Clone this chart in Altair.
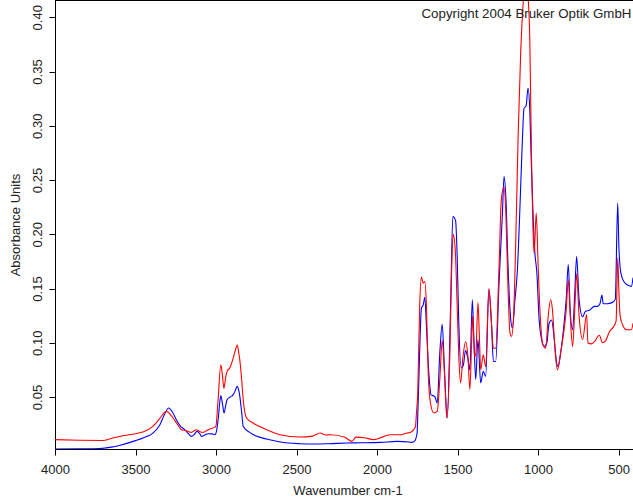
import altair as alt
import pandas as pd

# Two FT-IR absorbance spectra: wavenumber (cm-1) and absorbance pairs
blue_wn = [4000, 3850, 3724, 3650, 3600, 3500, 3450, 3392, 3350, 3320, 3294, 3270, 3246, 3220,
           3194, 3170, 3153, 3135, 3118, 3100, 3090, 3070, 3049, 3025, 3007, 2995, 2987, 2975,
           2970, 2960, 2950, 2940, 2931, 2912, 2894, 2880, 2869, 2860, 2852, 2840, 2831, 2800,
           2750, 2685, 2600, 2478, 2395, 2300, 2187, 2100, 1979, 1875, 1800, 1782, 1765, 1761,
           1751, 1747, 1736, 1724, 1713, 1703, 1693, 1678, 1664, 1650, 1640, 1626, 1610, 1595,
           1581, 1564, 1543, 1529, 1512, 1502, 1492, 1477, 1464, 1450, 1435, 1423, 1408, 1398,
           1387, 1373, 1356, 1340, 1325, 1305, 1290, 1277, 1263, 1242, 1221, 1211, 1199, 1186,
           1169, 1159, 1143, 1128, 1112, 1097, 1087, 1074, 1062, 1051, 1041, 1028, 1020, 1007,
           993, 978, 962, 945, 931, 916, 900, 885, 875, 860, 840, 825, 812, 800, 785, 772, 760,
           745, 723, 705, 680, 650, 630, 615, 603, 595, 570, 540, 520, 505, 498, 485, 465, 440,
           420, 410]
blue_abs = [0.0020, 0.0022, 0.0025, 0.0038, 0.0054, 0.0098, 0.0125, 0.0168, 0.0240, 0.0340,
            0.0399, 0.0360, 0.0291, 0.0230, 0.0199, 0.0160, 0.0137, 0.0155, 0.0183, 0.0160,
            0.0137, 0.0150, 0.0162, 0.0160, 0.0153, 0.0200, 0.0290, 0.0470, 0.0512, 0.0440,
            0.0353, 0.0420, 0.0475, 0.0500, 0.0520, 0.0560, 0.0598, 0.0570, 0.0506, 0.0350,
            0.0230, 0.0183, 0.0140, 0.0113, 0.0085, 0.0070, 0.0067, 0.0070, 0.0076, 0.0078,
            0.0082, 0.0091, 0.0085, 0.0082, 0.0095, 0.0107, 0.0168, 0.0320, 0.0870, 0.1320,
            0.1350, 0.1420, 0.1150, 0.0720, 0.0520, 0.0512, 0.0500, 0.0445, 0.0905, 0.1170,
            0.0750, 0.0307, 0.1335, 0.2164, 0.2127, 0.1795, 0.1180, 0.0767, 0.0790, 0.0930,
            0.0850, 0.0750, 0.1396, 0.1030, 0.0660, 0.1030, 0.0630, 0.0736, 0.0690, 0.1490,
            0.1210, 0.0828, 0.0828, 0.1550, 0.2195, 0.2532, 0.2317, 0.1703, 0.1210, 0.1136,
            0.1396, 0.1670, 0.2255, 0.2870, 0.3160, 0.3183, 0.3346, 0.3146, 0.2624, 0.2070,
            0.1840, 0.1640, 0.1210, 0.1030, 0.0966, 0.1000, 0.1180, 0.1210, 0.1050, 0.0820,
            0.0780, 0.0900, 0.1150, 0.1400, 0.1720, 0.1300, 0.1120, 0.1450, 0.1795, 0.1400,
            0.1240, 0.1290, 0.1300, 0.1335, 0.1335, 0.1360, 0.1440, 0.1360, 0.1360, 0.1370,
            0.1400, 0.2287, 0.1900, 0.1640, 0.1560, 0.1530, 0.1520, 0.1600]

red_wn = [4000, 3850, 3703, 3650, 3600, 3500, 3450, 3392, 3350, 3308, 3290, 3267, 3240, 3215,
          3184, 3153, 3135, 3121, 3100, 3080, 3060, 3039, 3010, 3001, 2987, 2970, 2960, 2951,
          2940, 2931, 2914, 2895, 2880, 2868, 2860, 2852, 2840, 2831, 2810, 2769, 2685, 2603,
          2478, 2400, 2353, 2320, 2291, 2200, 2156, 2130, 2080, 2021, 1960, 1917, 1855, 1813,
          1793, 1772, 1761, 1755, 1747, 1735, 1724, 1713, 1703, 1693, 1682, 1668, 1647, 1626,
          1610, 1595, 1581, 1566, 1548, 1537, 1527, 1514, 1502, 1492, 1481, 1466, 1450, 1435,
          1423, 1412, 1406, 1394, 1386, 1373, 1365, 1356, 1340, 1325, 1305, 1290, 1277, 1263,
          1242, 1228, 1211, 1199, 1186, 1174, 1164, 1151, 1137, 1123, 1107, 1091, 1078, 1062,
          1051, 1041, 1028, 1024, 1011, 999, 986, 972, 952, 937, 921, 910, 895, 879, 860, 840,
          825, 812, 800, 785, 772, 760, 745, 723, 698, 690, 670, 650, 619, 600, 580, 557, 530,
          515, 505, 498, 490, 475, 450, 420, 410]
red_abs = [0.0107, 0.0102, 0.0100, 0.0118, 0.0137, 0.0162, 0.0180, 0.0229, 0.0300, 0.0368,
           0.0350, 0.0307, 0.0250, 0.0199, 0.0190, 0.0174, 0.0190, 0.0199, 0.0180, 0.0174,
           0.0190, 0.0205, 0.0220, 0.0230, 0.0475, 0.0798, 0.0700, 0.0580, 0.0680, 0.0736,
           0.0770, 0.0850, 0.0930, 0.0980, 0.0920, 0.0840, 0.0650, 0.0475, 0.0307, 0.0260,
           0.0199, 0.0153, 0.0132, 0.0140, 0.0168, 0.0150, 0.0153, 0.0130, 0.0091, 0.0130,
           0.0125, 0.0107, 0.0135, 0.0153, 0.0153, 0.0168, 0.0174, 0.0200, 0.0230, 0.0350,
           0.0537, 0.1335, 0.1605, 0.1550, 0.1565, 0.1335, 0.0721, 0.0445, 0.0353, 0.0368,
           0.0660, 0.1020, 0.0720, 0.0307, 0.0874, 0.1640, 0.2000, 0.1857, 0.1335, 0.0874,
           0.0630, 0.0870, 0.1010, 0.0870, 0.0570, 0.1030, 0.1250, 0.0870, 0.0900, 0.1370,
           0.1100, 0.0750, 0.0890, 0.0780, 0.1500, 0.1200, 0.0950, 0.0950, 0.1700, 0.2317,
           0.2437, 0.2163, 0.1488, 0.1090, 0.1060, 0.1270, 0.2010, 0.2930, 0.3700, 0.4160,
           0.4400, 0.4200, 0.3790, 0.2777, 0.1920, 0.1826, 0.2195, 0.1700, 0.1240, 0.0997,
           0.0950, 0.1240, 0.1396, 0.1300, 0.0950, 0.0750, 0.0900, 0.1100, 0.1300, 0.1580,
           0.1250, 0.0966, 0.1300, 0.1636, 0.1250, 0.1030, 0.1260, 0.1000, 0.0990, 0.1010,
           0.1070, 0.1000, 0.1020, 0.1100, 0.1150, 0.1200, 0.1780, 0.1490, 0.1250, 0.1166,
           0.1120, 0.1120, 0.1180]

x_ticks = [4000, 3500, 3000, 2500, 2000, 1500, 1000, 500]
y_ticks = [0.05, 0.10, 0.15, 0.20, 0.25, 0.30, 0.35, 0.40]

FONT = "Liberation Sans"
W, H = 578, 449

blue_df = pd.DataFrame({"wn": blue_wn, "ab": blue_abs})
red_df = pd.DataFrame({"wn": red_wn, "ab": red_abs})

x_scale = alt.Scale(domain=[410, 4000], reverse=True, nice=False, zero=False)
y_scale = alt.Scale(domain=[0.0021, 0.4159], nice=False, zero=False)

x_axis = alt.Axis(
    values=x_ticks, format="d", title="Wavenumber cm-1", grid=False,
    tickSize=6, labelPadding=18.5, labelBaseline="alphabetic", labelFlush=False,
    titleX=292.5, titleY=45, titleAlign="center", titleBaseline="alphabetic",
)
y_axis = alt.Axis(
    values=y_ticks, format=".2f", title="Absorbance Units", grid=False,
    tickSize=6, labelAngle=270, labelAlign="center", labelBaseline="alphabetic",
    labelPadding=8, labelFlush=False, titleAngle=270, titleX=-36, titleY=224.5,
    titleAlign="center", titleBaseline="alphabetic",
)

line_style = dict(strokeWidth=1.1, clip=True, interpolate="monotone")

blue_line = alt.Chart(blue_df).mark_line(color="#0000ff", **line_style).encode(
    x=alt.X("wn:Q", scale=x_scale, axis=x_axis),
    y=alt.Y("ab:Q", scale=y_scale, axis=y_axis),
)
red_line = alt.Chart(red_df).mark_line(color="#ff0000", **line_style).encode(
    x=alt.X("wn:Q", scale=x_scale),
    y=alt.Y("ab:Q", scale=y_scale),
)

# frame line along the top of the plot box
top_rule = alt.Chart(pd.DataFrame({"k": [0]})).mark_rule(color="black", strokeWidth=1).encode(
    x=alt.value(0), x2=alt.value(W), y=alt.value(0.5)
)

note = alt.Chart(pd.DataFrame({"t": ["Copyright 2004 Bruker Optik GmbH"]})).mark_text(
    align="left", baseline="alphabetic", font=FONT, fontSize=13.3, color="#222222"
).encode(text="t:N", x=alt.value(366.5), y=alt.value(17.5))

chart = (
    alt.layer(blue_line, red_line, top_rule, note)
    .properties(
        width=W, height=H,
        autosize=alt.AutoSizeParams(type="none"),
        padding={"left": 55, "top": 0, "right": 0, "bottom": 55},
        background="white",
    )
    .configure_view(stroke=None)
    .configure_axis(
        labelFont=FONT, titleFont=FONT, labelFontSize=13, titleFontSize=13,
        labelColor="#222222", titleColor="#222222", titleFontWeight="normal",
        domainColor="black", tickColor="black", domainWidth=1, tickWidth=1,
        labelOverlap=False,
    )
)

chart.save("out.html", embed_options={"renderer": "svg", "actions": False})
